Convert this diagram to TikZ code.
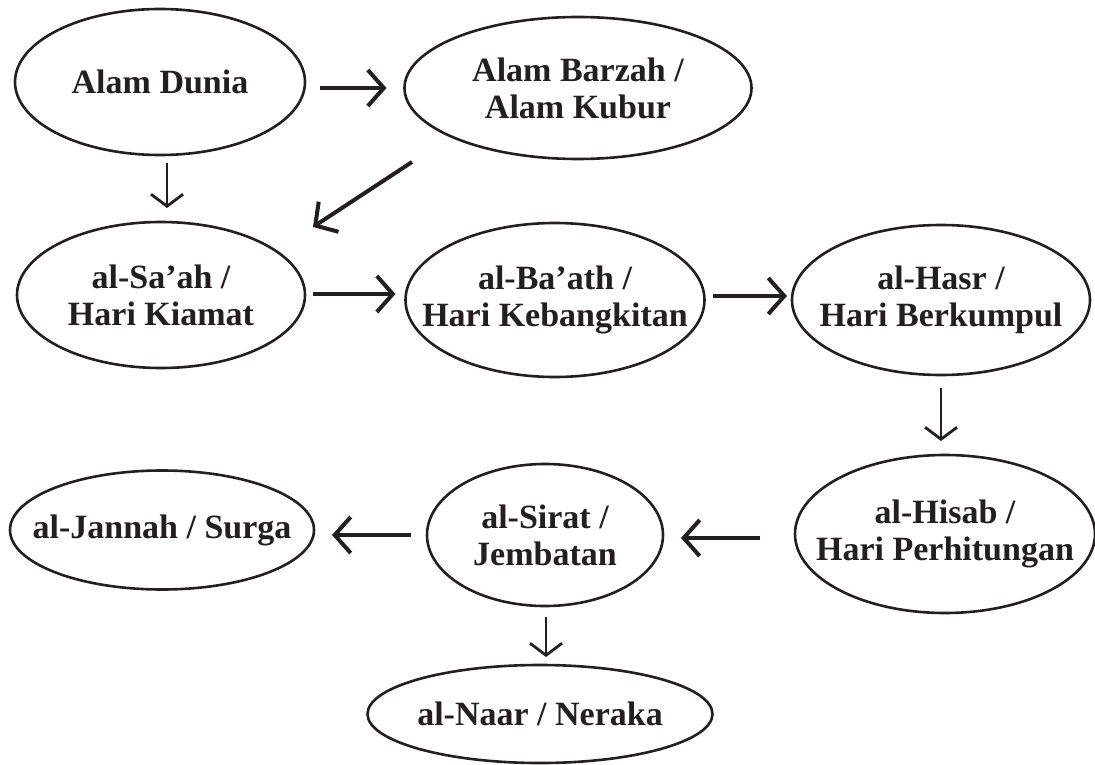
\documentclass[tikz,border=0pt]{standalone}
\usepackage{fontspec}
\setmainfont{Liberation Serif}
\usetikzlibrary{arrows.meta,shapes.geometric}
\definecolor{ink}{RGB}{35,31,32}
\begin{document}
\begin{tikzpicture}[x=1pt,y=-1pt,
  lbl/.style={text=ink,align=center,inner sep=0pt,font=\fontsize{34}{37}\selectfont\bfseries},
  ell/.style={ellipse,draw=ink,line width=2.6pt,inner sep=0pt,outer sep=0pt},
  harr/.style={draw=ink,line width=4pt,-{Straight Barb[length=16pt,width=36pt]}},
  varr/.style={draw=ink,line width=2.8pt,-{Straight Barb[length=12pt,width=32pt]}}]
\useasboundingbox (0,0) rectangle (1095,765);
\node[ell,minimum width=290pt,minimum height=146pt,label={[lbl]center:Alam Dunia}] (dunia) at (160,82) {};
\node[ell,minimum width=347pt,minimum height=142pt,label={[lbl]center:{Alam Barzah /\\Alam Kubur}}] (barzah) at (578,88) {};
\node[ell,minimum width=288pt,minimum height=146pt,label={[lbl]center:{al-Sa’ah /\\Hari Kiamat}}] (saah) at (161,295) {};
\node[ell,minimum width=299pt,minimum height=154pt,label={[lbl]center:{al-Ba’ath /\\Hari Kebangkitan}}] (baath) at (555,300) {};
\node[ell,minimum width=298pt,minimum height=150pt,label={[lbl]center:{al-Hasr /\\Hari Berkumpul}}] (hasr) at (941,300) {};
\node[ell,minimum width=300pt,minimum height=158pt,label={[lbl]center:{al-Hisab /\\Hari Perhitungan}}] (hisab) at (945,534) {};
\node[ell,minimum width=236pt,minimum height=142pt,label={[lbl]center:{al-Sirat /\\Jembatan}}] (sirat) at (545,535) {};
\node[ell,minimum width=304pt,minimum height=119pt,label={[lbl]center:al-Jannah / Surga}] (jannah) at (162,530) {};
\node[ell,minimum width=345pt,minimum height=98pt,label={[lbl]center:al-Naar / Neraka}] (naar) at (540,714) {};

\draw[harr,shorten <=15pt,shorten >=18pt] (dunia.east |- barzah.west) -- (barzah.west);
\draw[varr,shorten <=8pt,shorten >=14pt] ([shift={(7,0)}]dunia.south) -- ([shift={(6,0)}]saah.north);
\draw[harr] ([shift={(-166,74)}]barzah.center) -- ([shift={(152,-68)}]saah.center);
\draw[harr,shorten <=8pt,shorten >=10pt] ([shift={(0,-1)}]saah.east) -- ([shift={(0,-1)}]saah.east -| baath.west);
\draw[harr,shorten <=8pt,shorten >=5pt] ([shift={(0,-4)}]baath.east) -- ([shift={(0,-4)}]hasr.west);
\draw[varr,shorten <=13pt,shorten >=14pt] (hasr.south) -- (hasr.south |- hisab.north);
\draw[harr,shorten <=35pt,shorten >=18pt] ([shift={(0,4)}]hisab.west) -- ([shift={(0,3)}]sirat.east);
\draw[harr,shorten <=16pt,shorten >=18pt] (sirat.west) -- (sirat.west -| jannah.east);
\draw[varr,shorten <=11pt,shorten >=8pt] ([shift={(1,0)}]sirat.south) -- ([shift={(1,0)}]sirat.south |- naar.north);
\end{tikzpicture}
\end{document}
